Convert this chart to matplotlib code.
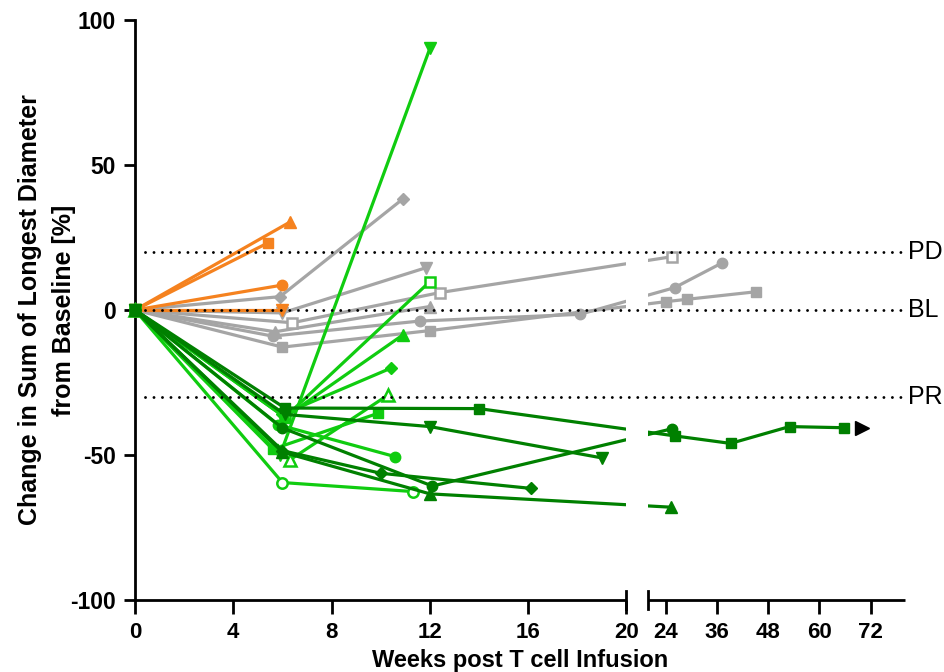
import matplotlib
matplotlib.use("Agg")
import matplotlib.pyplot as plt
import numpy as np
from matplotlib.patches import Rectangle

# response thresholds
ref_values = [20, 0, -30]
ref_labels = ["PD", "BL", "PR"]

x_ticks = [0, 4, 8, 12, 16, 20, 24, 36, 48, 60, 72]
y_ticks = [-100, -50, 0, 50, 100]

# orange patients
orange_weeks = [[0, 6.3], [0, 5.4], [0, 6.0], [0, 6.0]]
orange_values = [[0, 30.3], [0, 23.1], [0, 8.6], [0, 0.0]]

# gray patients
gray_weeks = [
    [0, 5.9, 10.9],
    [0, 6.0, 11.85],
    [0, 5.7, 12.0],
    [0, 6.4, 12.4, 25.6],
    [0, 5.6, 11.6, 18.1, 26.1, 37.3],
    [0, 6.0, 12.0, 24.2, 29.1, 45.2],
]
gray_values = [
    [0, 4.6, 38.3],
    [0, -1.0, 14.6],
    [0, -7.5, 1.2],
    [0, -4.4, 6.0, 18.4],
    [0, -9.0, -3.8, -1.5, 7.7, 16.3],
    [0, -12.8, -7.1, 2.9, 3.7, 6.3],
]

# bright green patients
green_weeks = [
    [0, 5.9, 12.0],
    [0, 6.1, 12.0],
    [0, 6.1, 10.9],
    [0, 6.0, 10.4],
    [0, 6.3, 10.3],
    [0, 5.6, 9.9],
    [0, 5.8, 10.6],
    [0, 6.0, 11.3],
]
green_values = [
    [0, -50.0, 90.2],
    [0, -37.0, 9.8],
    [0, -37.0, -8.6],
    [0, -36.0, -20.1],
    [0, -51.7, -29.3],
    [0, -48.0, -35.6],
    [0, -39.5, -50.6],
    [0, -59.5, -62.6],
]

# dark green patients
dark_weeks = [
    [0, 6.1, 14.0, 26.1, 39.2, 53.0, 65.8],
    [0, 6.0, 12.1, 25.4],
    [0, 6.1, 12.0, 19.0],
    [0, 6.0, 12.0, 25.3],
    [0, 6.0, 10.0, 16.1],
]
dark_values = [
    [0, -33.8, -34.0, -43.4, -46.0, -40.2, -40.6],
    [0, -40.7, -60.7, -41.0],
    [0, -36.0, -40.2, -51.0],
    [0, -49.0, -63.4, -68.0],
    [0, -48.5, -56.3, -61.5],
]

# ongoing response marker
ongoing_week = [70]
ongoing_value = [-40.7]

# broken x axis: 0-20 wide, 20-80 compressed
BREAK = 20
GAP = 0.894
K = 0.174


def forward(x):
    x = np.asarray(x, dtype=float)
    return np.where(x <= BREAK, x, BREAK + GAP + (x - BREAK) * K)


def inverse(u):
    u = np.asarray(u, dtype=float)
    return np.where(u <= BREAK, u,
                    np.where(u < BREAK + GAP, BREAK, BREAK + (u - BREAK - GAP) / K))


plt.rcParams['font.family'] = ['Liberation Sans', 'DejaVu Sans']

fig = plt.figure(figsize=(9.45, 6.72), dpi=100)
ax = fig.add_axes([135 / 945, 72 / 672, 770 / 945, 580 / 672])
ax.set_xscale('function', functions=(forward, inverse))
ax.set_xlim(0, 80)
ax.set_ylim(-100, 100)

ms = {'s': 7.5, 'o': 7.5, '^': 8.5, 'v': 8.5, 'D': 6.5}


def draw(weeks, values, markers, hollow, color):
    for w, v, m, h in zip(weeks, values, markers, hollow):
        ax.plot(w, v, color=color, lw=2.3, marker=m, ms=ms[m],
                mfc='white' if h else color, mec=color,
                mew=1.8 if h else 1, clip_on=False, zorder=3)


draw(gray_weeks, gray_values, ['D', 'v', '^', 's', 'o', 's'],
     [0, 0, 0, 1, 0, 0], '#A5A5A5')
draw(orange_weeks, orange_values, ['^', 's', 'o', 'v'],
     [0, 0, 0, 0], '#F5821F')
draw(green_weeks, green_values, ['v', 's', '^', 'D', '^', 's', 'o', 'o'],
     [0, 1, 0, 0, 1, 0, 0, 1], '#10CC10')
draw(dark_weeks, dark_values, ['s', 'o', 'v', '^', 'D'],
     [0, 0, 0, 0, 0], '#008000')

ax.plot(ongoing_week, ongoing_value, linestyle='none', marker='>',
        ms=10, color='black', clip_on=False, zorder=3)

# gap of the broken axis
u_end = float(forward(80))
lf = BREAK / u_end
rf = (BREAK + GAP) / u_end
ax.add_patch(Rectangle((lf, 0), rf - lf, 1, transform=ax.transAxes,
                       facecolor='white', edgecolor='none', zorder=4))

# reference lines
for val, lab in zip(ref_values, ref_labels):
    ax.axhline(val, xmin=0.013, xmax=1, color='black', lw=2.1,
               linestyle=(0, (0.01, 2.9)), dash_capstyle='round', zorder=5)
    ax.text(1.004, val, lab, transform=ax.get_yaxis_transform(),
            ha='left', va='center', fontsize=18, clip_on=False)

# axes styling
for s in ['top', 'right', 'bottom']:
    ax.spines[s].set_visible(False)
ax.spines['left'].set_linewidth(2)

for a, b in [(0, lf), (rf, 1)]:
    ax.plot([a, b], [0, 0], transform=ax.transAxes, color='black', lw=2,
            clip_on=False, zorder=6, solid_capstyle='butt')
for c in [lf, rf]:
    ax.plot([c, c], [-0.015, 0.015], transform=ax.transAxes, color='black',
            lw=2, clip_on=False, zorder=6)

ax.set_xticks(x_ticks)
ax.set_xticklabels([str(t) for t in x_ticks], fontweight='bold', fontsize=16)
ax.set_yticks(y_ticks)
ax.set_yticklabels([str(t) for t in y_ticks], fontweight='bold', fontsize=16.5)
ax.tick_params(axis='x', length=10, width=2, pad=6)
ax.tick_params(axis='y', length=8, width=2, pad=6)
ax.minorticks_off()

ax.set_xlabel('Weeks post T cell Infusion', fontsize=17, fontweight='bold')
ax.xaxis.label.set_va('bottom')
ax.xaxis.set_label_coords(0.5, -0.125)
ax.set_ylabel('Change in Sum of Longest Diameter\nfrom Baseline [%]',
              fontsize=18, fontweight='bold', linespacing=1.5)
ax.yaxis.set_label_coords(-0.077, 0.5)

fig.savefig('out.png', dpi=100)
